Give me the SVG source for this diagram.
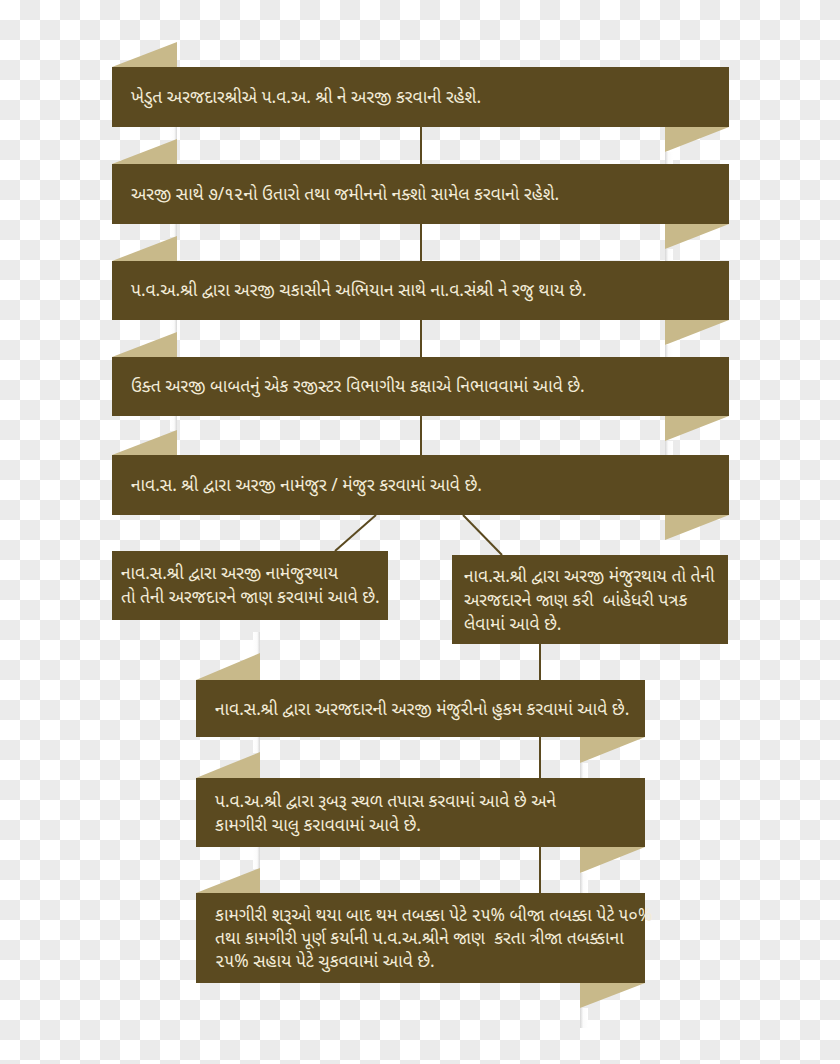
<svg xmlns="http://www.w3.org/2000/svg" width="840" height="1064" viewBox="0 0 840 1064">
<defs>
<pattern id="chk" width="40" height="40" patternUnits="userSpaceOnUse">
<rect width="40" height="40" fill="#ffffff"/>
<rect x="20" y="0" width="20" height="20" fill="#ebebeb"/>
<rect x="0" y="20" width="20" height="20" fill="#ebebeb"/>
</pattern>
<linearGradient id="shL" x1="0" y1="0" x2="1" y2="0">
<stop offset="0" stop-color="#ffffff"/>
<stop offset="0.6" stop-color="#fbfbfb"/>
<stop offset="1" stop-color="#d6d6d6"/>
</linearGradient>
<linearGradient id="shR" x1="0" y1="0" x2="1" y2="0">
<stop offset="0" stop-color="#d6d6d6"/>
<stop offset="0.4" stop-color="#fbfbfb"/>
<stop offset="1" stop-color="#ffffff"/>
</linearGradient>
<style>
.box{fill:#5b4a20}
.fold{fill:#c8b98a}
.sl{fill:url(#shL)}
.sr{fill:url(#shR)}
.t{font-family:"Noto Sans Gujarati","Lohit Gujarati","Noto Sans",sans-serif;font-size:17.4px;fill:#f3ecd8}
.c{stroke:#5b4a20;stroke-width:2;fill:none}
</style>
</defs>
<rect width="840" height="1064" fill="url(#chk)"/>
<g id="shadows">
<rect class="sl" x="170" y="127" width="7" height="13"/>
<rect class="sl" x="170" y="224" width="7" height="13"/>
<rect class="sl" x="170" y="320" width="7" height="13"/>
<rect class="sl" x="170" y="416" width="7" height="15"/>
<rect class="sr" x="665" y="152" width="8" height="12"/>
<rect class="sr" x="665" y="249" width="8" height="12"/>
<rect class="sr" x="665" y="345" width="8" height="12"/>
<rect class="sr" x="665" y="441" width="8" height="14"/>
<rect class="sl" x="253" y="632" width="7" height="22"/>
<rect class="sl" x="253" y="737" width="7" height="16"/>
<rect class="sl" x="253" y="847" width="7" height="22"/>
<rect class="sr" x="580" y="763" width="8" height="15"/>
<rect class="sr" x="580" y="873" width="8" height="20"/>
<rect class="sr" x="580" y="1008" width="8" height="20"/>
</g>
<g id="connectors">
<line class="c" x1="421" y1="127" x2="421" y2="164"/>
<line class="c" x1="421" y1="224" x2="421" y2="261"/>
<line class="c" x1="421" y1="320" x2="421" y2="357"/>
<line class="c" x1="421" y1="416" x2="421" y2="455"/>
<line class="c" x1="376" y1="515" x2="335" y2="551"/>
<line class="c" x1="463" y1="515" x2="502" y2="555"/>
<line class="c" x1="540" y1="644" x2="540" y2="680"/>
<line class="c" x1="540" y1="737" x2="540" y2="778"/>
<line class="c" x1="540" y1="847" x2="540" y2="893"/>
</g>
<g id="n1">
<polygon class="fold" points="112,67 177,42 177,67"/>
<polygon class="fold" points="665,127 729,127 665,152"/>
<rect class="box" x="112" y="67" width="617" height="60"/>
<text class="t" x="131" y="103">ખેડુત અરજદારશ્રીએ પ.વ.અ. શ્રી ને અરજી કરવાની રહેશે.</text>
</g>
<g id="n2">
<polygon class="fold" points="112,164 177,139 177,164"/>
<polygon class="fold" points="665,224 729,224 665,249"/>
<rect class="box" x="112" y="164" width="617" height="60"/>
<text class="t" x="131" y="200">અરજી સાથે ૭/૧૨નો ઉતારો તથા જમીનનો નક્શો સામેલ કરવાનો રહેશે.</text>
</g>
<g id="n3">
<polygon class="fold" points="112,261 177,236 177,261"/>
<polygon class="fold" points="665,320 729,320 665,345"/>
<rect class="box" x="112" y="261" width="617" height="59"/>
<text class="t" x="131" y="296">પ.વ.અ.શ્રી દ્વારા અરજી ચકાસીને અભિયાન સાથે ના.વ.સંશ્રી ને રજુ થાય છે.</text>
</g>
<g id="n4">
<polygon class="fold" points="112,357 177,332 177,357"/>
<polygon class="fold" points="665,416 729,416 665,441"/>
<rect class="box" x="112" y="357" width="617" height="59"/>
<text class="t" x="131" y="392">ઉક્ત અરજી બાબતનું એક રજીસ્ટર વિભાગીય કક્ષાએ નિભાવવામાં આવે છે.</text>
</g>
<g id="n5">
<polygon class="fold" points="112,455 177,430 177,455"/>
<polygon class="fold" points="665,515 729,515 665,540"/>
<rect class="box" x="112" y="455" width="617" height="60"/>
<text class="t" x="131" y="491">નાવ.સ. શ્રી દ્વારા અરજી નામંજુર / મંજુર કરવામાં આવે છે.</text>
</g>
<g id="n6a">
<rect class="box" x="112" y="551" width="276" height="69"/>
<text class="t" x="121" y="579">નાવ.સ.શ્રી દ્વારા અરજી નામંજુરથાય</text>
<text class="t" x="121" y="603">તો તેની અરજદારને જાણ કરવામાં આવે છે.</text>
</g>
<g id="n6b">
<rect class="box" x="452" y="555" width="276" height="89"/>
<text class="t" x="464" y="582">નાવ.સ.શ્રી દ્વારા અરજી મંજુરથાય તો તેની</text>
<text class="t" x="464" y="606" xml:space="preserve">અરજદારને જાણ કરી  બાંહેધરી પત્રક</text>
<text class="t" x="464" y="630">લેવામાં આવે છે.</text>
</g>
<g id="n7">
<polygon class="fold" points="196,680 260,653 260,680"/>
<polygon class="fold" points="580,737 645,737 580,763"/>
<rect class="box" x="196" y="680" width="449" height="57"/>
<text class="t" x="215" y="715">નાવ.સ.શ્રી દ્વારા અરજદારની અરજી મંજુરીનો હુકમ કરવામાં આવે છે.</text>
</g>
<g id="n8">
<polygon class="fold" points="196,778 260,752 260,778"/>
<polygon class="fold" points="580,847 645,847 580,873"/>
<rect class="box" x="196" y="778" width="449" height="69"/>
<text class="t" x="215" y="807">પ.વ.અ.શ્રી દ્વારા રૂબરૂ સ્થળ તપાસ કરવામાં આવે છે અને</text>
<text class="t" x="215" y="831">કામગીરી ચાલુ કરાવવામાં આવે છે.</text>
</g>
<g id="n9">
<polygon class="fold" points="196,893 260,868 260,893"/>
<polygon class="fold" points="580,983 645,983 580,1008"/>
<rect class="box" x="196" y="893" width="449" height="90"/>
<text class="t" x="215" y="921">કામગીરી શરૂઓ થયા બાદ થમ તબક્કા પેટે ૨૫% બીજા તબક્કા પેટે ૫૦%</text>
<text class="t" x="215" y="944" xml:space="preserve">તથા કામગીરી પૂર્ણ કર્યાની પ.વ.અ.શ્રીને જાણ  કરતા ત્રીજા તબક્કાના</text>
<text class="t" x="215" y="967">૨૫% સહાય પેટે ચુકવવામાં આવે છે.</text>
</g>
</svg>
